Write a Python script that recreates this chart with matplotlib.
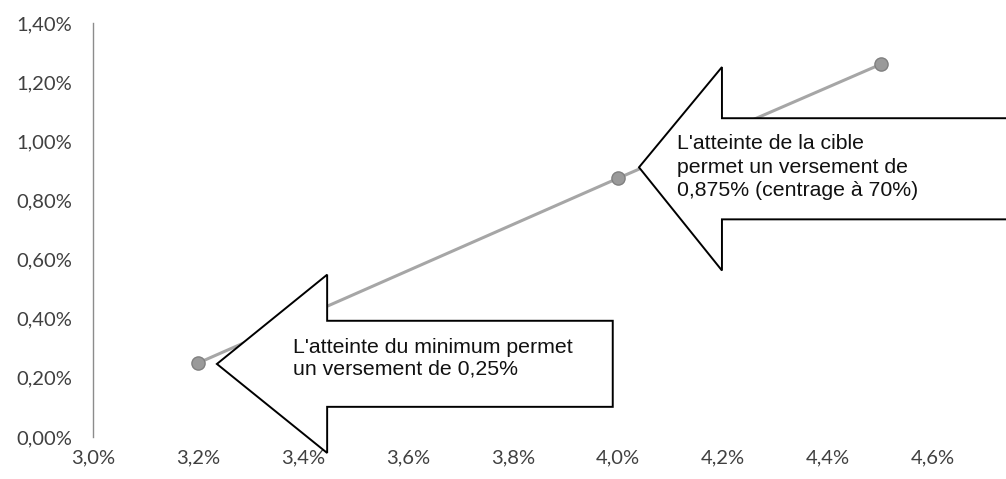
import matplotlib
matplotlib.use("Agg")
import matplotlib.pyplot as plt
from matplotlib.patches import Polygon
from matplotlib.ticker import FixedLocator, FuncFormatter

# Data (percent)
perf_x = [3.2, 4.0, 4.5]
payout_y = [0.25, 0.875, 1.26]
x_ticks = [3.0, 3.2, 3.4, 3.6, 3.8, 4.0, 4.2, 4.4, 4.6]
y_ticks = [0.0, 0.2, 0.4, 0.6, 0.8, 1.0, 1.2, 1.4]
note_min = "L'atteinte du minimum permet\nun versement de 0,25%"
note_target = "L'atteinte de la cible\npermet un versement de\n0,875% (centrage à 70%)"

W, H = 1006, 479
fig = plt.figure(figsize=(W / 100, H / 100), dpi=100)
fig.patch.set_facecolor("white")
ax = fig.add_axes([93 / W, 42 / H, 1 - 93 / W, (437 - 23) / H])
ax.set_xlim(3.0, 3.0 + (W - 93) / 525)
ax.set_ylim(0, 1.4)

ax.plot(perf_x, payout_y, color="#a6a6a6", lw=2.2, zorder=2,
        marker="o", ms=9.5, mfc="#9a9a9a", mec="#808080", mew=1)

for s in ["top", "right", "bottom"]:
    ax.spines[s].set_visible(False)
ax.spines["left"].set_color("#8c8c8c")
ax.spines["left"].set_linewidth(1)

ax.xaxis.set_major_locator(FixedLocator(x_ticks))
ax.yaxis.set_major_locator(FixedLocator(y_ticks))
ax.xaxis.set_major_formatter(FuncFormatter(lambda v, p: f"{v:.1f}%".replace(".", ",")))
ax.yaxis.set_major_formatter(FuncFormatter(lambda v, p: f"{v:.2f}%".replace(".", ",")))
ax.tick_params(axis="both", length=0, labelsize=14.5, labelcolor="#404040")
ax.tick_params(axis="y", pad=15)
ax.tick_params(axis="x", pad=9)
for lab in ax.get_xticklabels() + ax.get_yticklabels():
    lab.set_fontfamily("Lato")


def arrow(tipx, tipy, headx, headtop, headbot, shafttop, shaftbot, right):
    pts = [(tipx, tipy), (headx, headtop), (headx, shafttop), (right, shafttop),
           (right, shaftbot), (headx, shaftbot), (headx, headbot)]
    poly = Polygon(pts, closed=True, facecolor="white", edgecolor="black",
                   lw=1.4, zorder=4, clip_on=False, joinstyle="miter")
    ax.add_patch(poly)


arrow(3.236, 0.247, 3.446, 0.549, -0.054, 0.393, 0.102, 3.990)
arrow(4.040, 0.912, 4.198, 1.251, 0.563, 1.078, 0.736, 4.95)

ax.text(3.381, 0.266, note_min, fontsize=15.3, family="Liberation Sans",
        va="center", ha="left", zorder=5, linespacing=1.22, color="#111111")
ax.text(4.112, 0.912, note_target, fontsize=15.3, family="Liberation Sans",
        va="center", ha="left", zorder=5, linespacing=1.3, color="#111111")

fig.savefig("out.png", dpi=100, facecolor="white")
